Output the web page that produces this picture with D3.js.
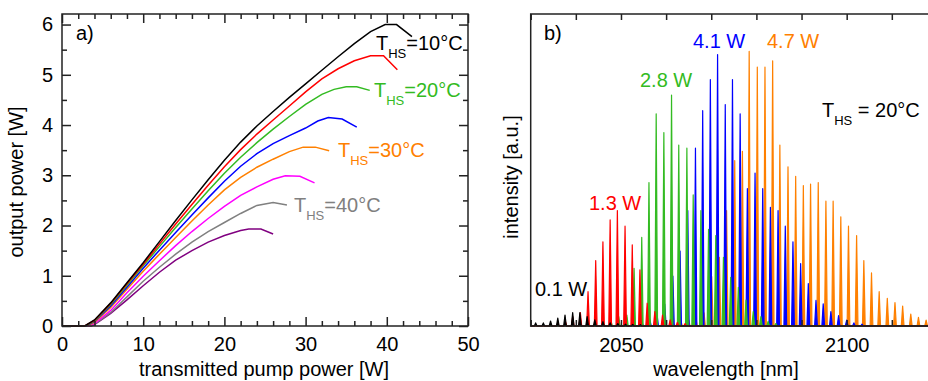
<!DOCTYPE html>
<html>
<head>
<meta charset="utf-8">
<script src="https://cdn.jsdelivr.net/npm/d3@7"></script>
<style>
  body { margin: 0; background: #fff; }
  svg text { font-family: "Liberation Sans", Arial, sans-serif; }
</style>
</head>
<body>
<div id="chart"></div>
<script>
// ---- panel a) output power vs transmitted pump power, one curve per heat sink temperature
const curve10 = [[0,0],[2.8,0],[4,0.12],[6,0.46],[8,0.86],[10,1.26],[12,1.68],[14,2.10],[16,2.51],[18,2.91],[20,3.30],[22,3.66],[24,3.98],[26,4.27],[28,4.55],[30,4.82],[32,5.09],[34,5.36],[36,5.62],[38,5.86],[39.8,6.0],[41.2,6.0],[43.1,5.76]];
const curve15 = [[0,0],[2.8,0],[4,0.11],[6,0.45],[8,0.84],[10,1.23],[12,1.63],[14,2.03],[16,2.42],[18,2.80],[20,3.17],[22,3.51],[24,3.82],[26,4.10],[28,4.38],[30,4.66],[32,4.92],[34,5.12],[36,5.28],[38,5.38],[39.6,5.38],[41.3,5.10]];
const curve20 = [[0,0],[2.9,0],[4,0.10],[6,0.43],[8,0.81],[10,1.20],[12,1.58],[14,1.96],[16,2.33],[18,2.69],[20,3.04],[22,3.36],[24,3.65],[26,3.92],[28,4.17],[30,4.41],[32,4.61],[33.5,4.71],[35,4.76],[36.3,4.76],[37.9,4.69]];
const curve25 = [[0,0],[3,0],[4,0.09],[6,0.40],[8,0.77],[10,1.15],[12,1.51],[14,1.86],[16,2.21],[18,2.55],[20,2.88],[22,3.18],[24,3.43],[26,3.63],[28,3.79],[30,3.94],[31.5,4.08],[32.8,4.15],[34.5,4.12],[36.3,3.96]];
const curve30 = [[0,0],[3.1,0],[4,0.07],[6,0.37],[8,0.73],[10,1.09],[12,1.43],[14,1.76],[16,2.09],[18,2.41],[20,2.71],[22,2.96],[24,3.16],[26,3.32],[28,3.47],[29.7,3.56],[31.2,3.56],[32.9,3.49]];
const curve35 = [[0,0],[3.2,0],[4,0.05],[6,0.31],[8,0.66],[10,0.99],[12,1.30],[14,1.60],[16,1.88],[18,2.14],[20,2.38],[22,2.60],[24,2.77],[26,2.92],[27.5,2.99],[29.3,2.98],[31.1,2.85]];
const curve40 = [[0,0],[3.4,0],[4,0.04],[6,0.27],[8,0.58],[10,0.89],[12,1.17],[14,1.43],[16,1.67],[18,1.88],[20,2.06],[22,2.24],[24,2.40],[26,2.46],[27.7,2.41]];
const curve45 = [[0,0],[3.6,0],[4,0.03],[6,0.25],[8,0.52],[10,0.80],[12,1.07],[14,1.31],[16,1.50],[18,1.67],[20,1.80],[22,1.90],[23,1.93],[24.5,1.93],[26,1.83]];

const pumpTicks = [0, 10, 20, 30, 40, 50];
const powerTicks = [0, 1, 2, 3, 4, 5, 6];

// ---- panel b) spectra at T_HS = 20 degC, mode peaks as [wavelength nm, intensity a.u.]
const peaks01W = [[2031.1,0.01],[2032.8,0.01],[2034.4,0.016],[2036.0,0.025],[2037.6,0.035],[2039.3,0.043],[2040.9,0.043],[2042.5,0.03],[2044.2,0.02],[2046.0,0.014],[2047.6,0.01],[2049.3,0.008],[2051.0,0.006],[2052.6,0.005],[2054.3,0.004]];
const peaks13W = [[2034.4,0.006],[2036.0,0.01],[2037.7,0.014],[2039.3,0.03],[2041.0,0.043],[2042.7,0.11],[2044.4,0.21],[2046.0,0.27],[2047.6,0.34],[2049.2,0.37],[2050.9,0.32],[2052.5,0.26],[2054.2,0.18],[2055.8,0.073],[2057.5,0.046],[2059.2,0.035],[2060.9,0.02],[2062.5,0.012],[2064.2,0.008]];
const peaks28W = [[2046.1,0.01],[2047.8,0.015],[2049.5,0.03],[2051.3,0.035],[2052.9,0.185],[2054.6,0.284],[2056.2,0.46],[2057.8,0.68],[2059.5,0.62],[2061.2,0.74],[2062.8,0.58],[2064.6,0.57],[2066.0,0.42],[2067.7,0.37],[2069.4,0.31],[2071.0,0.29],[2072.7,0.22],[2074.3,0.156],[2076.0,0.124],[2077.7,0.083],[2079.3,0.046],[2081.0,0.03],[2082.6,0.015],[2084.3,0.008]];
const peaks41W = [[2054.7,0.01],[2056.4,0.02],[2058.0,0.035],[2059.7,0.07],[2061.5,0.16],[2063.1,0.24],[2064.8,0.37],[2066.5,0.57],[2068.1,0.69],[2069.8,0.79],[2071.4,0.87],[2073.1,0.71],[2074.7,0.79],[2076.4,0.68],[2078.0,0.44],[2079.7,0.49],[2081.4,0.44],[2083.1,0.38],[2084.8,0.37],[2086.4,0.32],[2088.1,0.27],[2089.8,0.2],[2091.5,0.136],[2093.2,0.082],[2094.8,0.071],[2096.5,0.046],[2098.2,0.033],[2100.0,0.019],[2101.6,0.01],[2103.4,0.006]];
const peaks47W = [[2061.6,0.01],[2063.3,0.015],[2065.0,0.02],[2066.6,0.025],[2068.4,0.042],[2070.1,0.158],[2071.8,0.22],[2073.4,0.37],[2075.2,0.53],[2076.9,0.56],[2078.4,0.88],[2080.2,0.83],[2081.9,0.83],[2083.6,0.85],[2085.2,0.58],[2087.0,0.51],[2088.7,0.48],[2090.4,0.45],[2092.0,0.455],[2093.7,0.46],[2095.4,0.4],[2097.0,0.4],[2098.7,0.35],[2100.4,0.32],[2102.2,0.29],[2103.8,0.21],[2105.5,0.17],[2107.2,0.11],[2109.0,0.089],[2110.7,0.075],[2112.4,0.064],[2114.2,0.038],[2115.9,0.028],[2117.6,0.019],[2119.3,0.01]];

const wlTicks = [2050, 2100];
const wlMinorTicks = [2030, 2040, 2060, 2070, 2080, 2090, 2110, 2120];

const fs = 20;
const svg = d3.select('#chart').append('svg')
  .attr('width', 928)
  .attr('height', 381);

// ================= panel a =================
const xL = d3.scaleLinear().domain([0, 50]).range([62, 468]);
const yL = d3.scaleLinear().domain([0, 6.21]).range([326, 14]);

const pa = svg.append('g');

const curves = [
  { data: curve45, color: '#800080' },
  { data: curve40, color: '#808080' },
  { data: curve35, color: '#ff00ff' },
  { data: curve30, color: '#ff8000' },
  { data: curve25, color: '#0000ff' },
  { data: curve20, color: '#33bb22' },
  { data: curve15, color: '#ff0000' },
  { data: curve10, color: '#000000' }
];

const lineL = d3.line().x(d => xL(d[0])).y(d => yL(d[1]));
curves.forEach(c => {
  pa.append('path')
    .datum(c.data)
    .attr('fill', 'none')
    .attr('stroke', c.color)
    .attr('stroke-width', 1.5)
    .attr('d', lineL);
});

function styleAxis(g) {
  g.select('.domain').remove();
  g.selectAll('line').attr('stroke', '#222').attr('stroke-width', 1.5);
  g.selectAll('text').attr('font-size', fs).attr('fill', '#000')
    .attr('font-family', '"Liberation Sans", Arial, sans-serif');
}

const pumpMinor = d3.range(0, 51, 2).filter(v => v % 10 !== 0);
const powerMinor = d3.range(0.5, 6.2, 1);

pa.append('g').attr('transform', 'translate(0,326)')
  .call(d3.axisBottom(xL).tickValues(pumpTicks).tickSize(-9).tickPadding(11).tickFormat(d3.format('d')))
  .call(styleAxis);
pa.append('g').attr('transform', 'translate(0,326)')
  .call(d3.axisBottom(xL).tickValues(pumpMinor).tickSize(-5).tickFormat(''))
  .call(styleAxis);
pa.append('g').attr('transform', 'translate(0,14)')
  .call(d3.axisTop(xL).tickValues(pumpTicks).tickSize(-9).tickFormat(''))
  .call(styleAxis);
pa.append('g').attr('transform', 'translate(0,14)')
  .call(d3.axisTop(xL).tickValues(pumpMinor).tickSize(-5).tickFormat(''))
  .call(styleAxis);
pa.append('g').attr('transform', 'translate(62,0)')
  .call(d3.axisLeft(yL).tickValues(powerTicks).tickSize(-9).tickPadding(9).tickFormat(d3.format('d')))
  .call(styleAxis);
pa.append('g').attr('transform', 'translate(62,0)')
  .call(d3.axisLeft(yL).tickValues(powerMinor).tickSize(-5).tickFormat(''))
  .call(styleAxis);
pa.append('g').attr('transform', 'translate(468,0)')
  .call(d3.axisRight(yL).tickValues(powerTicks).tickSize(-9).tickFormat(''))
  .call(styleAxis);
pa.append('g').attr('transform', 'translate(468,0)')
  .call(d3.axisRight(yL).tickValues(powerMinor).tickSize(-5).tickFormat(''))
  .call(styleAxis);

pa.append('rect')
  .attr('x', 62).attr('y', 14).attr('width', 406).attr('height', 312)
  .attr('fill', 'none').attr('stroke', '#222').attr('stroke-width', 1.5);

pa.append('text').attr('x', 76).attr('y', 40).attr('font-size', fs).text('a)');

pa.append('text')
  .attr('transform', 'translate(23,182) rotate(-90)')
  .attr('text-anchor', 'middle')
  .attr('font-size', fs)
  .text('output power [W]');
pa.append('text')
  .attr('x', 264).attr('y', 376)
  .attr('text-anchor', 'middle')
  .attr('font-size', fs)
  .text('transmitted pump power [W]');

// T_HS labels
function thsLabel(g, x, y, rest, color) {
  const t = g.append('text').attr('x', x).attr('y', y).attr('font-size', fs).attr('fill', color);
  t.append('tspan').text('T');
  t.append('tspan').attr('font-size', 13).attr('dy', 8).text('HS');
  t.append('tspan').attr('dy', -8).text(rest);
}
thsLabel(pa, 376, 50, '=10°C', '#000000');
thsLabel(pa, 374, 97, '=20°C', '#33bb22');
thsLabel(pa, 338, 157, '=30°C', '#ff8000');
thsLabel(pa, 294, 212, '=40°C', '#808080');

// ================= panel b =================
const xR = d3.scaleLinear().domain([2030, 2120]).range([530.7, 530.7 + 90 * 4.514]);
const yR = d3.scaleLinear().domain([0, 1]).range([326, 14]);

const pb = svg.append('g');

const spectra = [
  { data: peaks47W, color: '#ff8000' },
  { data: peaks41W, color: '#0000ff' },
  { data: peaks28W, color: '#33bb22' },
  { data: peaks13W, color: '#ff0000' },
  { data: peaks01W, color: '#000000' }
];

// each mode drawn as a narrow spike on the baseline
const halfWidth = 0.3;
const lineR = d3.line().x(d => xR(d[0])).y(d => yR(d[1]));
spectra.forEach(s => {
  const pts = [[2030, 0]];
  s.data.forEach(p => {
    pts.push([p[0] - halfWidth, 0], [p[0], p[1]], [p[0] + halfWidth, 0]);
  });
  pts.push([2120, 0]);
  pb.append('path')
    .datum(pts)
    .attr('fill', s.color)
    .attr('stroke', s.color)
    .attr('stroke-width', 1.2)
    .attr('stroke-linejoin', 'round')
    .attr('d', lineR);
});

pb.append('g').attr('transform', 'translate(0,326)')
  .call(d3.axisBottom(xR).tickValues(wlTicks).tickSize(-6).tickPadding(12).tickFormat(d3.format('d')))
  .call(styleAxis);
pb.append('g').attr('transform', 'translate(0,326)')
  .call(d3.axisBottom(xR).tickValues(wlMinorTicks).tickSize(-6).tickFormat(''))
  .call(styleAxis);
pb.append('g').attr('transform', 'translate(0,14)')
  .call(d3.axisTop(xR).tickValues(wlTicks.concat(wlMinorTicks)).tickSize(-6).tickFormat(''))
  .call(styleAxis);

pb.append('path')
  .attr('d', `M${xR(2120)},14 H530.7 V326 H${xR(2120)}`)
  .attr('fill', 'none').attr('stroke', '#222').attr('stroke-width', 1.5);

pb.append('text').attr('x', 544).attr('y', 40).attr('font-size', fs).text('b)');

pb.append('text')
  .attr('transform', 'translate(517.5,177) rotate(-90)')
  .attr('text-anchor', 'middle')
  .attr('font-size', fs)
  .text('intensity [a.u.]');
pb.append('text')
  .attr('x', 726).attr('y', 376)
  .attr('text-anchor', 'middle')
  .attr('font-size', fs)
  .text('wavelength [nm]');

const powerLabels = [
  { text: '0.1 W', x: 535, y: 296, color: '#000000' },
  { text: '1.3 W', x: 589, y: 210, color: '#ff0000' },
  { text: '2.8 W', x: 640, y: 87, color: '#33bb22' },
  { text: '4.1 W', x: 693, y: 48, color: '#0000ff' },
  { text: '4.7 W', x: 767, y: 48, color: '#ff8000' }
];
powerLabels.forEach(l => {
  pb.append('text').attr('x', l.x).attr('y', l.y)
    .attr('font-size', fs).attr('fill', l.color).text(l.text);
});

thsLabel(pb, 822, 117, ' = 20°C', '#000000');
</script>
</body>
</html>
